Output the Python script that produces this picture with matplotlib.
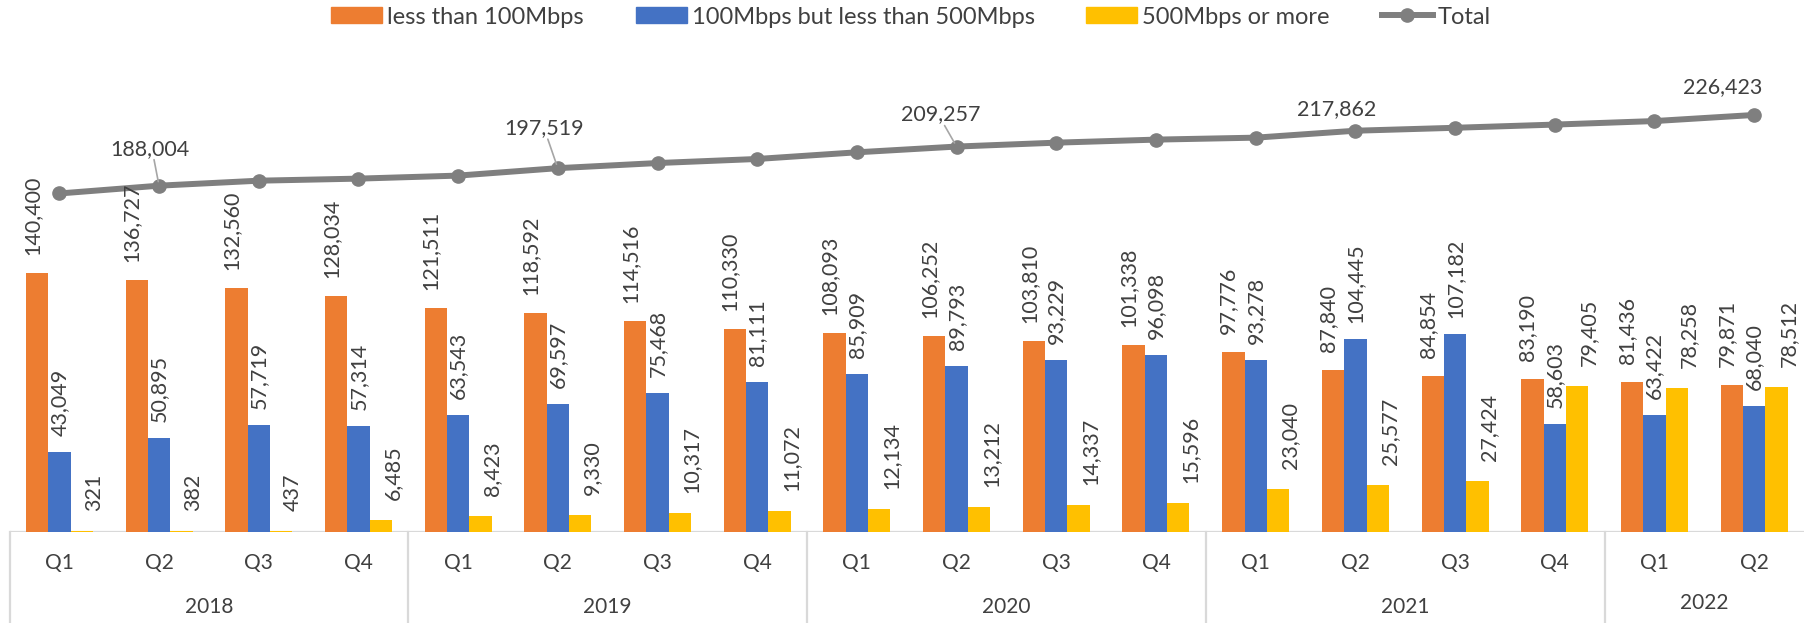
import matplotlib.pyplot as plt
from matplotlib.lines import Line2D
from matplotlib.patches import Patch

quarters = ['Q1', 'Q2', 'Q3', 'Q4', 'Q1', 'Q2', 'Q3', 'Q4', 'Q1', 'Q2', 'Q3', 'Q4',
            'Q1', 'Q2', 'Q3', 'Q4', 'Q1', 'Q2']
years = ['2018', '2019', '2020', '2021', '2022']
year_quarters = [4, 4, 4, 4, 2]

less_100 = [140400, 136727, 132560, 128034, 121511, 118592, 114516, 110330, 108093,
            106252, 103810, 101338, 97776, 87840, 84854, 83190, 81436, 79871]
mid_100_500 = [43049, 50895, 57719, 57314, 63543, 69597, 75468, 81111, 85909,
               89793, 93229, 96098, 93278, 104445, 107182, 58603, 63422, 68040]
over_500 = [321, 382, 437, 6485, 8423, 9330, 10317, 11072, 12134,
            13212, 14337, 15596, 23040, 25577, 27424, 79405, 78258, 78512]
total = [183770, 188004, 190716, 191833, 193477, 197519, 200301, 202513, 206136,
         209257, 211376, 213032, 214094, 217862, 219460, 221198, 223116, 226423]

# which totals carry a label, and where the label sits (pixels from the point)
total_labels = {1: (-9, 37), 5: (-14, 40), 9: (-16, 32), 13: (-19, 22), 17: (-31, 28)}
leaders = [1, 5, 9]

c_orange = '#ED7D31'
c_blue = '#4472C4'
c_yellow = '#FFC000'
c_line = '#7F7F7F'
c_text = '#404040'
c_grid = '#D9D9D9'
font = ['Lato', 'DejaVu Sans']
fs = 15.5
fs_axis = 15
fs_leg = 17

plt.rcParams['font.family'] = font

W, H = 1808, 623
fig = plt.figure(figsize=(W / 100, H / 100), dpi=100)
base_px = 531.7
ax = fig.add_axes([9.5 / W, (H - base_px) / H, (1804 - 9.5) / W, base_px / H])
ax.set_xlim(-0.5, len(quarters) - 0.5)
ax.set_ylim(0, base_px / 0.0018405)
ax.axis('off')

x = list(range(len(quarters)))
bw = 0.224
series = [(less_100, c_orange, -bw, -5, 18), (mid_100_500, c_blue, 0, 0, 16),
          (over_500, c_yellow, bw, 12, 20)]
for vals, col, off, dx, dy in series:
    xs = [i + off for i in x]
    ax.bar(xs, vals, width=bw, color=col, zorder=2)
    for xi, v in zip(xs, vals):
        ax.annotate(f'{v:,}', xy=(xi, v), xytext=(dx, dy), textcoords='offset pixels',
                    rotation=90, ha='center', va='bottom', fontsize=fs, color=c_text,
                    zorder=4)

ax.plot(x, total, color=c_line, lw=4.3, marker='o', ms=9.5, zorder=3)
for i, (dx, dy) in total_labels.items():
    ax.annotate(f'{total[i]:,}', xy=(x[i], total[i]), xytext=(dx, dy),
                textcoords='offset pixels', ha='center', va='center',
                fontsize=fs, color=c_text, zorder=5)
    if i in leaders:
        ax.annotate('', xy=(x[i], total[i]), xytext=(dx + 4, dy - 11),
                    textcoords='offset pixels',
                    arrowprops=dict(arrowstyle='-', color='#A6A6A6', lw=1.2,
                                    shrinkA=0, shrinkB=3))

# category axis
ax.axhline(0, color=c_grid, lw=1.6, zorder=1)
tr = ax.get_xaxis_transform()
bottom = -(H - base_px) / base_px
for i, q in enumerate(quarters):
    ax.text(i, -(563 - base_px) / base_px, q, transform=tr, ha='center', va='center',
            fontsize=fs_axis, color=c_text)
start = 0
for yr, n in zip(years, year_quarters):
    ax.plot([start - 0.5, start - 0.5], [0, bottom], transform=tr, color=c_grid,
            lw=1.6, clip_on=False)
    yr_y = 603 if n < 4 else 607
    ax.text(start + (n - 1) / 2, -(yr_y - base_px) / base_px, yr, transform=tr,
            ha='center', va='center', fontsize=fs_axis, color=c_text)
    start += n

handles = [Patch(color=c_orange), Patch(color=c_blue), Patch(color=c_yellow),
           Line2D([], [], color=c_line, lw=4.3, marker='o', ms=9.5)]
names = ['less than 100Mbps', '100Mbps but less than 500Mbps', '500Mbps or more', 'Total']
leg = fig.legend(handles, names, loc='center', bbox_to_anchor=(911 / W, 1 - 17 / H),
                 ncol=4, frameon=False, fontsize=fs_leg, handlelength=2.16,
                 handleheight=0.64, handletextpad=0.21, columnspacing=2.2,
                 borderpad=0)
for t in leg.get_texts():
    t.set_color(c_text)

fig.savefig('out.png', dpi=100)
